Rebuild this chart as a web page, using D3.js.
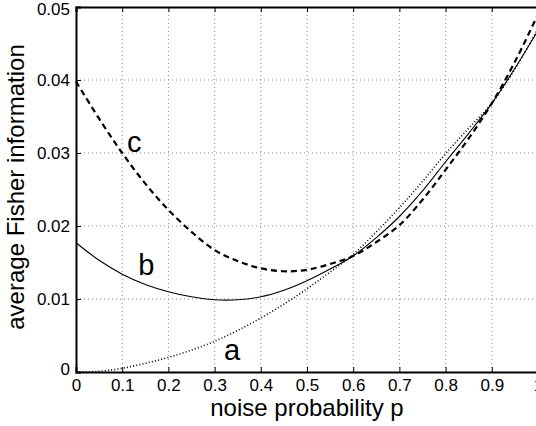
<!DOCTYPE html>
<html>
<head>
<meta charset="utf-8">
<script src="https://cdn.jsdelivr.net/npm/d3@7"></script>
<style>
  body { margin: 0; background: #fff; }
  svg { display: block; font-family: "Liberation Sans", Arial, sans-serif; }
</style>
</head>
<body>
<div id="chart"></div>
<script>
// values
var pValues = [0, 0.05, 0.1, 0.15, 0.2, 0.25, 0.3, 0.35, 0.4, 0.45, 0.5,
               0.55, 0.6, 0.65, 0.7, 0.75, 0.8, 0.85, 0.9, 0.95, 1.0]
var curveA = [0.0000, 0.0001, 0.0005, 0.0012, 0.0020, 0.0030, 0.0042, 0.0057, 0.0074, 0.0093, 0.0114,
              0.0137, 0.0161, 0.0192, 0.0225, 0.0261, 0.0299, 0.0334, 0.0368, 0.0415, 0.0470]
var curveB = [0.0177, 0.0153, 0.0134, 0.0120, 0.0110, 0.0103, 0.0099, 0.0099, 0.0103, 0.0112, 0.0125,
              0.0141, 0.0159, 0.0184, 0.0213, 0.0248, 0.0288, 0.0327, 0.0368, 0.0416, 0.0468]
var curveC = [0.0398, 0.0347, 0.0300, 0.0258, 0.0222, 0.0192, 0.0167, 0.0152, 0.0142, 0.0138, 0.0140,
              0.0148, 0.0159, 0.0178, 0.0201, 0.0236, 0.0277, 0.0320, 0.0368, 0.0425, 0.0490]
var xTicks = [0, 0.1, 0.2, 0.3, 0.4, 0.5, 0.6, 0.7, 0.8, 0.9, 1]
var yTicks = [0, 0.01, 0.02, 0.03, 0.04, 0.05]
var curveNames = ["a", "b", "c"]
var labelPos = [[0.338, 0.0017], [0.152, 0.0133], [0.126, 0.0301]]  // letter baseline, data units

var margin = {top: 7, right: 0, bottom: 54, left: 76},
    width = 462,
    height = 365;

var svg = d3.select("#chart")
  .append("svg")
    .attr("width", 536)
    .attr("height", 426)
  .append("g")
    .attr("transform", "translate(" + margin.left + "," + margin.top + ")");

var x = d3.scaleLinear().domain([0, 1]).range([0, width])
var y = d3.scaleLinear().domain([0, 0.05]).range([height, 0])

// grid
svg.append("g")
  .selectAll("line")
  .data(xTicks.slice(1, -1))
  .enter().append("line")
    .attr("x1", d => x(d)).attr("x2", d => x(d))
    .attr("y1", 0).attr("y2", height)
    .attr("stroke", "#8a8a8a").attr("stroke-width", 1)
    .attr("stroke-dasharray", "1,3")
svg.append("g")
  .selectAll("line")
  .data(yTicks.slice(1, -1))
  .enter().append("line")
    .attr("x1", 0).attr("x2", width)
    .attr("y1", d => y(d)).attr("y2", d => y(d))
    .attr("stroke", "#8a8a8a").attr("stroke-width", 1)
    .attr("stroke-dasharray", "1,3")

// curves
var line = d3.line()
  .x(d => x(d[0]))
  .y(d => y(d[1]))
  .curve(d3.curveCatmullRom.alpha(0.5))

var series = [curveA, curveB, curveC]
var styles = [
  {w: 1.6, dash: "1,2.2"},
  {w: 1.1, dash: null},
  {w: 2.2, dash: "6,4"}
]
series.forEach(function(vals, i) {
  svg.append("path")
    .datum(pValues.map((p, j) => [p, vals[j]]))
    .attr("d", line)
    .attr("fill", "none")
    .attr("stroke", "#000")
    .attr("stroke-width", styles[i].w)
    .attr("stroke-dasharray", styles[i].dash)
})

// curve letters
svg.selectAll(".clabel")
  .data(curveNames)
  .enter().append("text")
    .attr("class", "clabel")
    .attr("x", (d, i) => x(labelPos[i][0]))
    .attr("y", (d, i) => y(labelPos[i][1]))
    .attr("text-anchor", "middle")
    .style("font-size", "29px")
    .text(d => d)

// axes (matlab style, ticks inside)
var xAxis = svg.append("g")
  .attr("transform", "translate(0," + height + ")")
  .call(d3.axisBottom(x).tickValues(xTicks).tickSize(-5).tickPadding(7)
    .tickFormat(d => d === 1 ? "1" : d3.format("")(d)))
var xTop = svg.append("g")
  .call(d3.axisTop(x).tickValues(xTicks).tickSize(-5).tickFormat(""))
var yAxis = svg.append("g")
  .call(d3.axisLeft(y).tickValues(yTicks).tickSize(-5).tickPadding(6)
    .tickFormat(d => d === 0 ? "0" : d3.format(".2f")(d)))

;[xAxis, xTop, yAxis].forEach(function(g) {
  g.select(".domain").attr("stroke-width", 2).attr("stroke", "#000")
  g.selectAll(".tick line").attr("stroke", "#000")
  g.selectAll("text").style("font-size", "17px").attr("fill", "#000")
})
// the y "0" label sits a little higher than the others, the top one a bit lower
yAxis.selectAll(".tick text").filter(d => d === 0).attr("dy", "0.15em")
yAxis.selectAll(".tick text").filter(d => d === 0.05).attr("dy", "0.42em")

svg.append("text")
  .attr("x", 231)
  .attr("y", height + 44)
  .attr("text-anchor", "middle")
  .style("font-size", "24px")
  .text("noise probability p")

svg.append("text")
  .attr("transform", "rotate(-90)")
  .attr("x", -180)
  .attr("y", -52)
  .attr("text-anchor", "middle")
  .style("font-size", "24px")
  .text("average Fisher information")
</script>
</body>
</html>
